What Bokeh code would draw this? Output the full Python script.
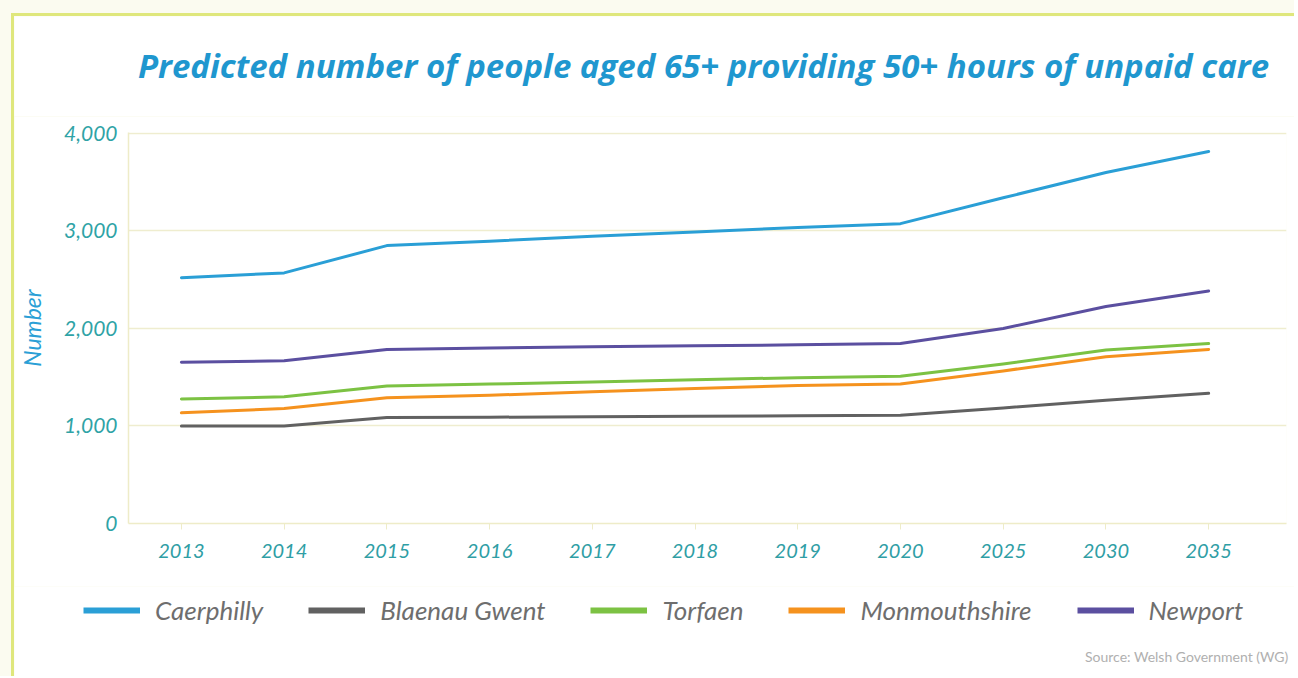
from bokeh.plotting import figure
from bokeh.layouts import column
from bokeh.models import (Range1d, FixedTicker, NumeralTickFormatter, Legend, LegendItem, Label)
from bokeh.embed import file_html
from bokeh.resources import INLINE

title_text = "Predicted number of people aged 65+ providing 50+ hours of unpaid care"
years = ["2013", "2014", "2015", "2016", "2017", "2018", "2019", "2020", "2025", "2030", "2035"]
caerphilly = [2520, 2570, 2850, 2895, 2945, 2990, 3035, 3075, 3340, 3600, 3815]
blaenau_gwent = [1000, 1000, 1087, 1090, 1095, 1100, 1105, 1110, 1185, 1265, 1335]
torfaen = [1276, 1300, 1410, 1430, 1452, 1475, 1495, 1510, 1635, 1780, 1845]
monmouthshire = [1135, 1180, 1290, 1315, 1350, 1385, 1415, 1430, 1565, 1710, 1785]
newport = [1655, 1668, 1785, 1800, 1812, 1822, 1832, 1845, 2000, 2225, 2385]
y_ticks = [0, 1000, 2000, 3000, 4000]

series = [
    ("Caerphilly", caerphilly, "#2a9fd6"),
    ("Blaenau Gwent", blaenau_gwent, "#616161"),
    ("Torfaen", torfaen, "#7cc243"),
    ("Monmouthshire", monmouthshire, "#f5921e"),
    ("Newport", newport, "#5b4fa0"),
]

xs = list(range(len(years)))

# title strip
pt = figure(width=1280, height=100, output_backend="svg", toolbar_location=None,
            x_range=Range1d(0, 1280), y_range=Range1d(0, 100),
            x_axis_location=None, y_axis_location=None,
            min_border_left=0, min_border_right=0, min_border_top=0, min_border_bottom=0,
            background_fill_color="white", border_fill_color="white", outline_line_color=None,
            frame_align=False)
pt.xgrid.grid_line_color = None
pt.ygrid.grid_line_color = None
pt.add_layout(Label(x=689, y=51, x_units="screen", y_units="screen", text=title_text,
                    text_align="center", text_baseline="middle", text_font="Open Sans",
                    text_font_style="bold italic", text_font_size="33px",
                    text_color="#1f97cf"))

# main chart
p = figure(width=1280, height=470, output_backend="svg", toolbar_location=None,
           x_range=Range1d(-0.515, 10.758), y_range=Range1d(0, 4010),
           min_border_left=114, min_border_right=8, min_border_top=16, min_border_bottom=63,
           background_fill_color="white", border_fill_color="white",
           outline_line_color=None, frame_align=False)

p.xaxis.ticker = FixedTicker(ticks=xs)
p.xaxis.major_label_overrides = {i: y for i, y in enumerate(years)}
p.xaxis.major_label_text_font = "Lato"
p.xaxis.major_label_text_font_style = "italic"
p.xaxis.major_label_text_font_size = "20px"
p.xaxis.major_label_text_color = "#2f9ea5"
p.xaxis.axis_line_color = "#eeecc8"
p.xaxis.axis_line_width = 1.5
p.xaxis.major_tick_line_color = "#eeecc8"
p.xaxis.major_tick_in = 0
p.xaxis.major_tick_out = 6
p.xaxis.minor_tick_line_color = None
p.xaxis.major_label_standoff = 14

p.yaxis.ticker = FixedTicker(ticks=y_ticks)
p.yaxis.formatter = NumeralTickFormatter(format="0,0")
p.yaxis.major_label_text_font = "Lato"
p.yaxis.major_label_text_font_style = "italic"
p.yaxis.major_label_text_font_size = "21px"
p.yaxis.major_label_text_color = "#2fa3a6"
p.yaxis.axis_line_color = "#eeecc8"
p.yaxis.axis_line_width = 1.5
p.yaxis.major_tick_line_color = None
p.yaxis.minor_tick_line_color = None
p.yaxis.major_label_standoff = 5
p.yaxis.axis_label = "Number"
p.yaxis.axis_label_text_font = "Lato"
p.yaxis.axis_label_text_font_style = "italic"
p.yaxis.axis_label_text_font_size = "23px"
p.yaxis.axis_label_text_color = "#2a9fd6"
p.yaxis.axis_label_standoff = 15

p.xgrid.grid_line_color = None
p.ygrid.grid_line_color = "#efedcf"
p.ygrid.grid_line_width = 1.5

for name, vals, color in series:
    p.line(xs, vals, line_color=color, line_width=3, line_join="round", line_cap="round")

# legend strip below the chart
pl = figure(width=1280, height=90, output_backend="svg", toolbar_location=None,
            x_range=Range1d(0, 1280), y_range=Range1d(0, 90),
            x_axis_location=None, y_axis_location=None,
            min_border_left=0, min_border_right=0, min_border_top=0, min_border_bottom=0,
            background_fill_color="white", border_fill_color="white", outline_line_color=None,
            frame_align=False)
pl.xgrid.grid_line_color = None
pl.ygrid.grid_line_color = None

items = []
for name, vals, color in series:
    # same series drawn in the strip (outside its visible range) only to feed the legend glyphs
    proxy = pl.line(xs, vals, line_color=color, line_width=6)
    items.append(LegendItem(label=name, renderers=[proxy]))

legend = Legend(items=items, orientation="horizontal", location=(69, 50),
                glyph_width=57, glyph_height=20, label_standoff=15, spacing=45,
                padding=0, margin=0, border_line_color=None, background_fill_alpha=0,
                label_text_font="Lato", label_text_font_style="italic",
                label_text_font_size="26px", label_text_color="#6e6e6e")
pl.add_layout(legend, "center")

pl.add_layout(Label(x=1274, y=20, x_units="screen", y_units="screen",
                    text="Source: Welsh Government (WG)", text_align="right",
                    text_baseline="middle", text_font="Lato", text_font_size="14px",
                    text_color="#b0b0b0"))

inner = column(pt, p, pl, spacing=0,
               styles={"border-left": "3px solid #dfe77c", "border-top": "3px solid #dfe77c",
                       "margin-left": "11px", "margin-top": "13px"})
layout = column(inner, styles={"background-color": "#fbfbf0"})

open("out.html", "w").write(file_html(layout, INLINE))
